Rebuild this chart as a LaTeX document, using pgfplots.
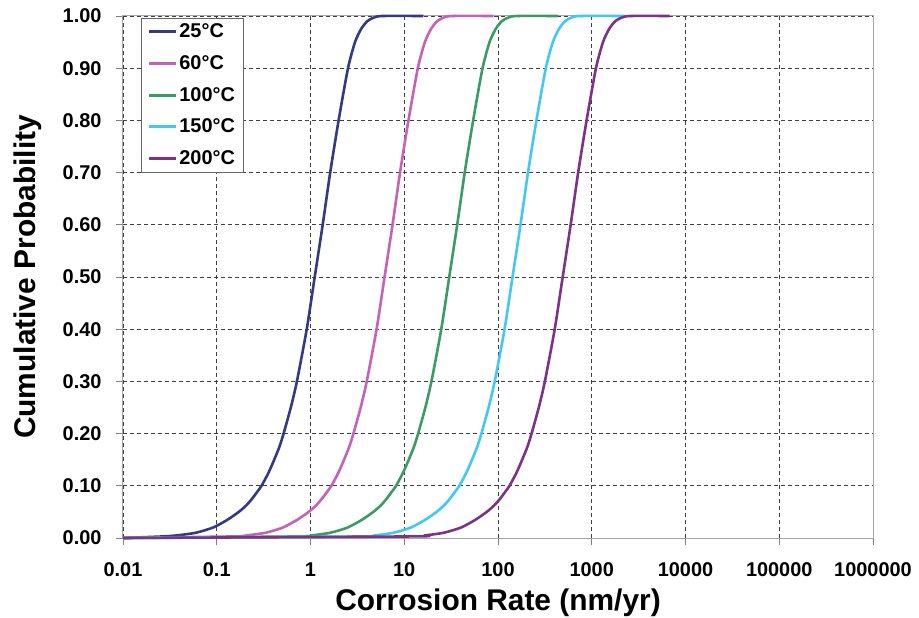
\documentclass[border=0pt]{standalone}
\usepackage{pgfplots}
\pgfplotsset{compat=1.18}
\usepackage{pgfplotstable}
\usepackage{fontspec}
\setmainfont{Liberation Sans}
\definecolor{cA}{HTML}{333A80}
\definecolor{cB}{HTML}{C462B4}
\definecolor{cC}{HTML}{3D9A66}
\definecolor{cD}{HTML}{42C8F2}
\definecolor{cE}{HTML}{7A3385}
\pgfplotstableread{
x y
0.01 0
0.02661 0.003
0.03758 0.005
0.05957 0.01
0.0912 0.02
0.1303 0.035
0.1718 0.05
0.2065 0.0625
0.2377 0.075
0.2679 0.0875
0.3006 0.1
0.3564 0.125
0.4102 0.15
0.4667 0.175
0.5164 0.2
0.6166 0.25
0.7161 0.3
0.9120 0.4
1.109 0.5
1.349 0.6
1.622 0.7
1.995 0.8
2.512 0.9
2.985 0.95
3.467 0.975
4.027 0.99
4.732 0.997
5.821 1
16.03 1
}\tA
\pgfplotstableread{
x y
0.01 0
0.1479 0.003
0.2089 0.005
0.3311 0.01
0.5070 0.02
0.7244 0.035
0.9550 0.05
1.148 0.0625
1.321 0.075
1.489 0.0875
1.671 0.1
1.981 0.125
2.280 0.15
2.594 0.175
2.871 0.2
3.428 0.25
3.981 0.3
5.070 0.4
6.166 0.5
7.499 0.6
9.016 0.7
11.09 0.8
13.96 0.9
16.60 0.95
19.28 0.975
22.39 0.99
26.30 0.997
32.36 1
89.13 1
}\tB
\pgfplotstableread{
x y
0.01 0
0.7244 0.003
1.023 0.005
1.622 0.01
2.483 0.02
3.548 0.035
4.677 0.05
5.623 0.0625
6.471 0.075
7.295 0.0875
8.185 0.1
9.703 0.125
11.17 0.15
12.71 0.175
14.06 0.2
16.79 0.25
19.50 0.3
24.83 0.4
30.20 0.5
36.73 0.6
44.16 0.7
54.33 0.8
68.39 0.9
81.28 0.95
94.41 0.975
109.6 0.99
128.8 0.997
158.5 1
436.5 1
}\tC
\pgfplotstableread{
x y
0.01 0
3.428 0.003
4.842 0.005
7.674 0.01
11.75 0.02
16.79 0.035
22.13 0.05
26.61 0.0625
30.62 0.075
34.51 0.0875
38.73 0.1
45.91 0.125
52.84 0.15
60.12 0.175
66.53 0.2
79.43 0.25
92.26 0.3
117.5 0.4
142.9 0.5
173.8 0.6
208.9 0.7
257.0 0.8
323.6 0.9
384.6 0.95
446.7 0.975
518.8 0.99
609.5 0.997
749.9 1
2239 1
}\tD
\pgfplotstableread{
x y
0.01 0
11.75 0.003
16.60 0.005
26.30 0.01
40.27 0.02
57.54 0.035
75.86 0.05
91.20 0.0625
105.0 0.075
118.3 0.0875
132.7 0.1
157.4 0.125
181.2 0.15
206.1 0.175
228.0 0.2
272.3 0.25
316.2 0.3
402.7 0.4
489.8 0.5
595.7 0.6
716.1 0.7
881.0 0.8
1109 0.9
1318 0.95
1531 0.975
1778 0.99
2089 0.997
2570 1
6761 1
}\tE
\begin{document}
\begin{tikzpicture}
\path[use as bounding box] (-123bp,-80bp) rectangle (796bp,538bp);
\begin{axis}[
  xmode=log, width=750bp, height=522bp, scale only axis,
  xmin=0.01, xmax=1000000, ymin=0, ymax=1,
  xtick={0.01,0.1,1,10,100,1000,10000,100000,1000000},
  xticklabels={0.01,0.1,1,10,100,1000,10000,100000,1000000},
  ytick={0,0.1,...,1.01},
  xminorticks=false,
  /pgf/number format/assume math mode=true,
  yticklabel style={/pgf/number format/fixed, /pgf/number format/fixed zerofill, /pgf/number format/precision=2, xshift=-11bp},
  ticklabel style={font=\bfseries\fontsize{20}{24}\selectfont},
  xticklabel style={yshift=-14bp},
  tick align=outside, major tick length=7bp, tick pos=left,
  tick style={gray, line width=0.8bp},
  axis line style={gray!70, line width=1bp},
  grid=major,
  major grid style={black!75, line width=0.7bp, dash pattern=on 4bp off 3bp},
  xlabel={\bfseries Corrosion Rate (nm/yr)},
  ylabel={\bfseries Cumulative Probability},
  label style={font=\bfseries\fontsize{30}{36}\selectfont},
  xlabel style={at={(axis description cs:0.5,-0.097)}, anchor=north, inner sep=0pt},
  ylabel style={at={(axis description cs:-0.108,0.5)}, anchor=south, inner sep=0pt},
  clip=false,
  legend cell align=left,
  legend style={at={(axis description cs:0.024,0.997)}, anchor=north west,
    draw=gray!80!black, line width=0.8bp, font=\bfseries\fontsize{20}{24}\selectfont,
    inner xsep=6bp, inner ysep=4bp, row sep=12.3bp},
  legend image code/.code={\draw[#1, line width=3bp] (0bp,0bp) -- (27bp,0bp);},
  curve/.style={line width=2.6bp, smooth, tension=0.4},
]
\addplot[cA, curve] table {\tA};
\addlegendentry{25°C}
\addplot[cB, curve] table {\tB};
\addlegendentry{60°C}
\addplot[cC, curve] table {\tC};
\addlegendentry{100°C}
\addplot[cD, curve] table {\tD};
\addlegendentry{150°C}
\addplot[cE, curve] table {\tE};
\addlegendentry{200°C}
\end{axis}
\end{tikzpicture}
\end{document}
